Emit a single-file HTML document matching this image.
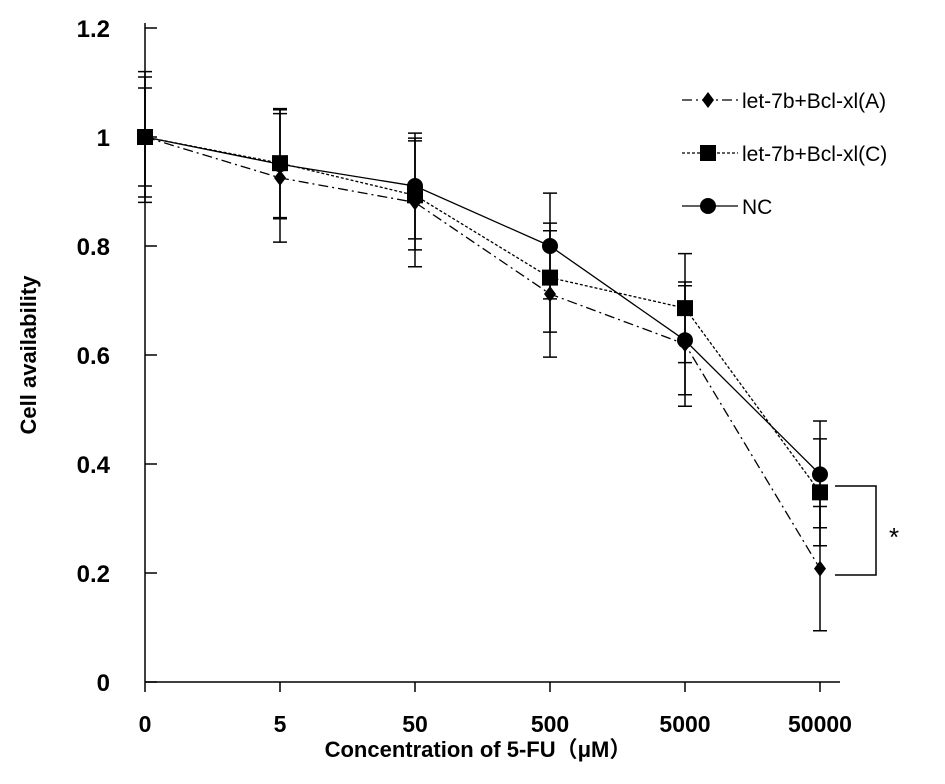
<!DOCTYPE html>
<html><head><meta charset="utf-8"><style>
html,body{margin:0;padding:0;background:#fff}
svg{display:block;font-family:"Liberation Sans","Noto Sans CJK SC",sans-serif}
</style></head><body>
<svg id="chart" width="945" height="784" viewBox="0 0 945 784">
<g id="axes"></g>
<g id="series"></g>
<g id="legend"></g>
<text x="478" y="757" text-anchor="middle" font-size="22" font-weight="bold">Concentration of 5-FU（μM）</text>
<text transform="translate(36,355) rotate(-90)" text-anchor="middle" font-size="22" font-weight="bold">Cell availability</text>
<g>
<path d="M835 486 H876 V575 H835" fill="none" stroke="#000" stroke-width="1.5"/>
<text x="894" y="546" text-anchor="middle" font-size="26">*</text>
</g>
</svg>
<script>
const categories = ["0","5","50","500","5000","50000"];
const yTicks = [0,0.2,0.4,0.6,0.8,1,1.2];
const yTickLabels = ["0","0.2","0.4","0.6","0.8","1","1.2"];
const seriesNames = ["let-7b+Bcl-xl(A)","let-7b+Bcl-xl(C)","NC"];
const valuesA = [1,0.925,0.88,0.712,0.62,0.208];
const valuesC = [1,0.952,0.893,0.742,0.686,0.348];
const valuesNC = [1,0.95,0.91,0.80,0.627,0.381];
const errA = [0.11,0.118,0.118,0.116,0.114,0.114];
const errC = [0.09,0.1,0.1,0.1,0.1,0.098];
const errNC = [0.12,0.1,0.097,0.097,0.1,0.098];

const NS="http://www.w3.org/2000/svg";
const x0=145, dx=135, yBase=682, yTop=28, yMax=1.2;
function xs(i){return x0+i*dx;}
function ys(v){return yBase-(v/yMax)*(yBase-yTop);}
function mk(tag,attrs,parent){const e=document.createElementNS(NS,tag);for(const k in attrs)e.setAttribute(k,attrs[k]);parent.appendChild(e);return e;}

const axes=document.getElementById('axes');
let ax=mk('line',{x1:x0,y1:yTop-5,x2:x0,y2:yBase,stroke:'#000','stroke-width':1.5},axes);


let bx=mk('line',{x1:x0,y1:yBase,x2:xs(5)+20,y2:yBase,stroke:'#000','stroke-width':1.5},axes);


yTicks.forEach((v,i)=>{
  mk('line',{x1:x0,y1:ys(v),x2:x0+12,y2:ys(v),stroke:'#000','stroke-width':1.5},axes);
  const t=mk('text',{x:110,y:ys(v)+9,'text-anchor':'end','font-size':24,'font-weight':'bold'},axes);
  t.textContent=yTickLabels[i];
  
  
});
categories.forEach((c,i)=>{
  mk('line',{x1:xs(i),y1:yBase,x2:xs(i),y2:yBase+10,stroke:'#000','stroke-width':1.5},axes);
  const t=mk('text',{x:xs(i),y:yBase+50,'text-anchor':'middle','font-size':23,'font-weight':'bold'},axes);
  t.textContent=c;
  
  
});

const series=document.getElementById('series');
const defs=[
 {vals:valuesA,err:errA,dash:'10,4,2,4',marker:'diamond',name:'series-a'},
 {vals:valuesC,err:errC,dash:'3,2',marker:'square',name:'series-c'},
 {vals:valuesNC,err:errNC,dash:'',marker:'circle',name:'series-nc'}
];
function marker(type,x,y,parent){
  let m;
  if(type==='diamond') m=mk('polygon',{points:`${x},${y-8} ${x+6},${y} ${x},${y+8} ${x-6},${y}`,fill:'#000'},parent);
  else if(type==='square') m=mk('rect',{x:x-8,y:y-8,width:16,height:16,fill:'#000'},parent);
  else m=mk('circle',{cx:x,cy:y,r:8,fill:'#000'},parent);
  return m;
}
defs.forEach(d=>{
  const g=mk('g',{},series);
  
  
  d.vals.forEach((v,i)=>{
    const hi=ys(v+d.err[i]), lo=ys(v-d.err[i]);
    const e=mk('path',{d:`M${xs(i)} ${hi} V${lo} M${xs(i)-7} ${hi} H${xs(i)+7} M${xs(i)-7} ${lo} H${xs(i)+7}`,stroke:'#000','stroke-width':1.5,fill:'none'},g);
    
    
  });
  const pts=d.vals.map((v,i)=>xs(i)+','+ys(v)).join(' ');
  const pl=mk('polyline',{points:pts,fill:'none',stroke:'#000','stroke-width':1.3},g);
  if(d.dash) pl.setAttribute('stroke-dasharray',d.dash);
  
  
  d.vals.forEach((v,i)=>{
    const m=marker(d.marker,xs(i),ys(v),g);
    
    
  });
});

const legend=document.getElementById('legend');
defs.forEach((d,i)=>{
  const y=100+i*53;
  const g=mk('g',{},legend);
  
  
  const l=mk('line',{x1:682,y1:y,x2:738,y2:y,stroke:'#000','stroke-width':1.3},g);
  if(d.dash) l.setAttribute('stroke-dasharray',d.dash);
  marker(d.marker,708,y,g);
  const t=mk('text',{x:742,y:y+8,'font-size':21},g);
  t.textContent=seriesNames[i];
});
</script>
</body></html>
